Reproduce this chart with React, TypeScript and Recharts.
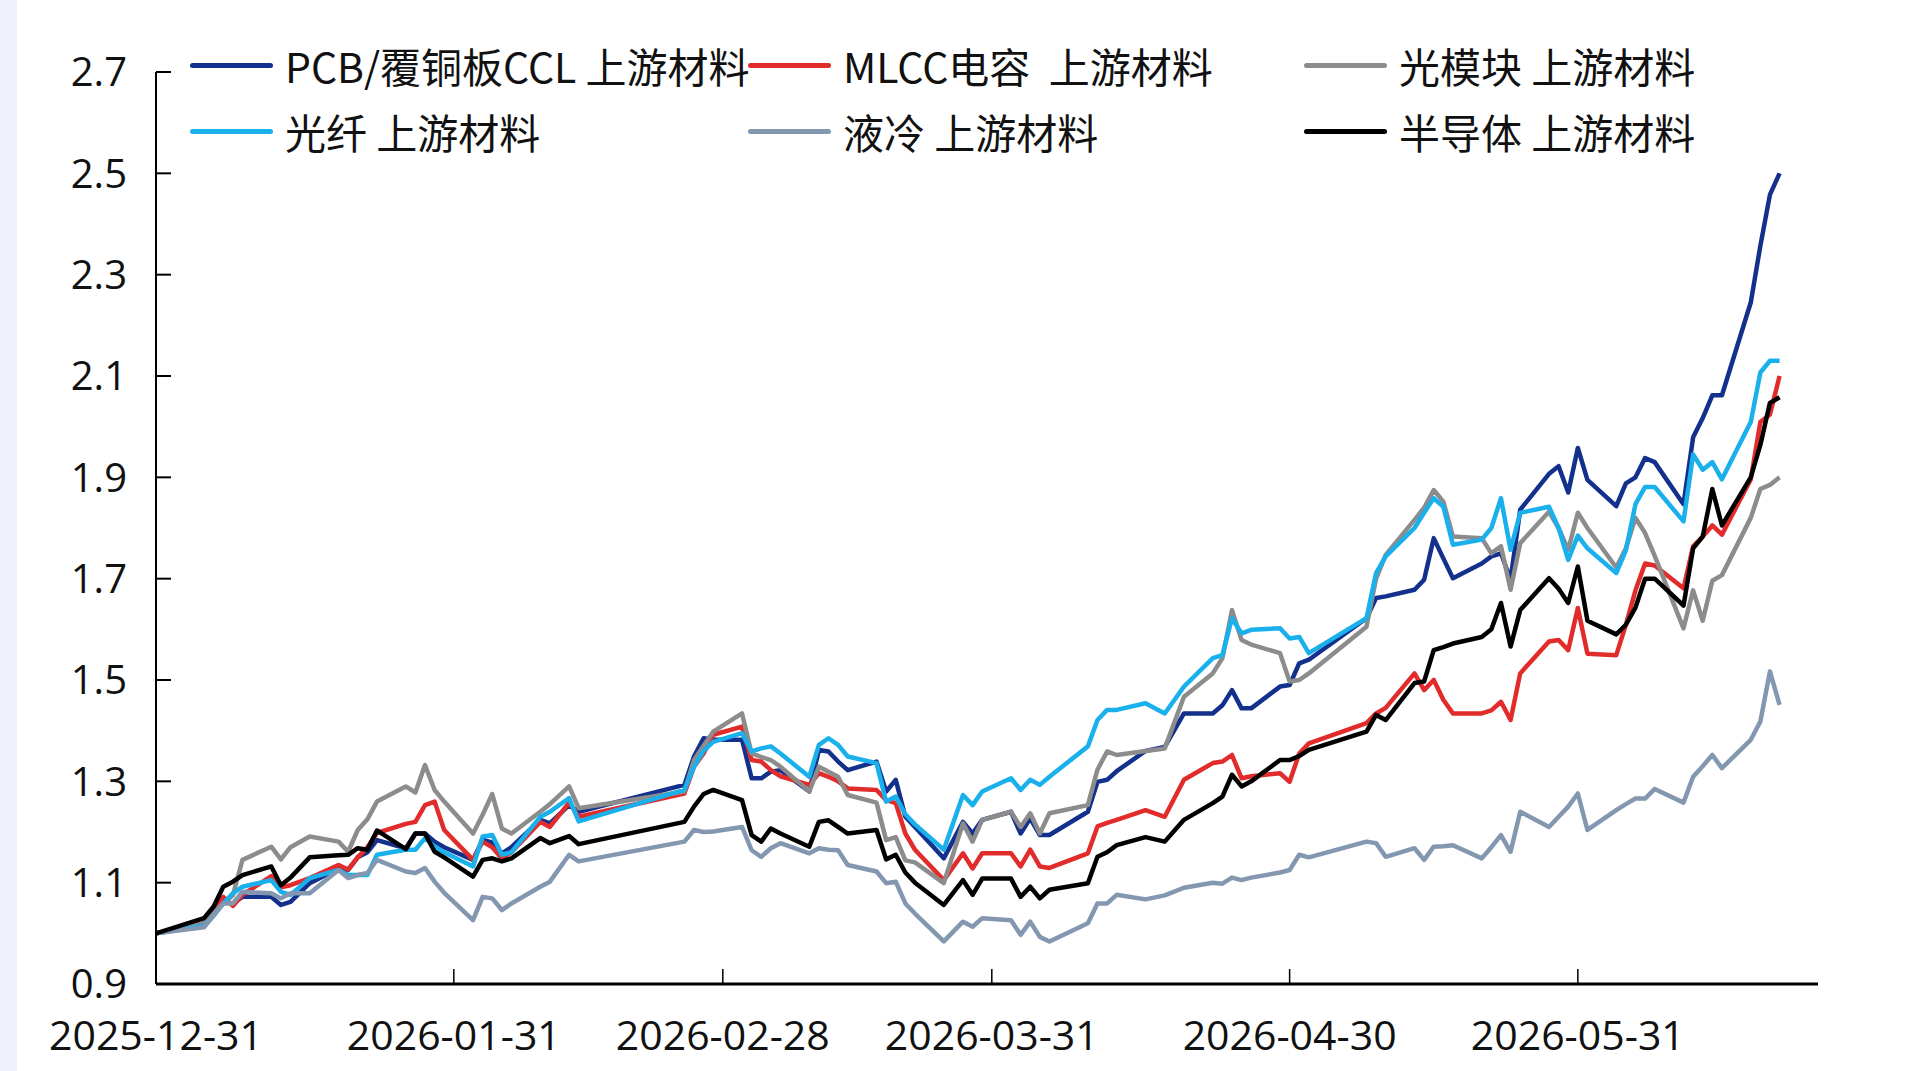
import { LineChart, Line, XAxis, YAxis, Legend } from "recharts";

// days since 2025-12-31 (trading days where the lines turn)
const days = [
  0, 5, 6, 7, 8, 9, 12, 13, 14, 16, 19, 20, 21, 22, 23, 26, 27, 28, 29, 30,
  33, 34, 35, 36, 37, 40, 41, 43, 44, 55, 56, 57, 58, 61, 62, 63, 64, 65, 68, 69,
  70, 71, 72, 75, 76, 77, 78, 79, 82, 84, 85, 86, 89, 90, 91, 92, 93, 97, 98, 99,
  100, 103, 105, 107, 110, 111, 112, 113, 114, 117, 118, 119, 120, 126, 127, 128, 131, 132, 133, 134,
  135, 138, 139, 140, 141, 142, 145, 146, 147, 148, 149, 152, 153, 154, 155, 156, 159, 160, 161, 162,
  163, 166, 167, 168, 169,
];

const pcbCcl = [
  1.0, 1.015, 1.04, 1.062, 1.059, 1.072, 1.072, 1.056, 1.062, 1.099, 1.128, 1.125, 1.15, 1.16, 1.184, 1.168, 1.197, 1.197, 1.181, 1.17,
  1.145, 1.185, 1.179, 1.158, 1.17, 1.224, 1.217, 1.253, 1.24, 1.293, 1.349, 1.385, 1.382, 1.382, 1.306, 1.306, 1.319, 1.322, 1.28, 1.362,
  1.359, 1.339, 1.322, 1.339, 1.28, 1.303, 1.23, 1.21, 1.148, 1.22, 1.197, 1.224, 1.24, 1.197, 1.227, 1.194, 1.194, 1.24, 1.299, 1.303,
  1.32, 1.36, 1.368, 1.434, 1.434, 1.45, 1.48, 1.444, 1.444, 1.487, 1.49, 1.533, 1.54, 1.622, 1.662, 1.665, 1.678, 1.698, 1.78, 1.74,
  1.701, 1.73, 1.744, 1.75, 1.698, 1.836, 1.907, 1.922, 1.87, 1.958, 1.895, 1.843, 1.888, 1.9, 1.938, 1.93, 1.847, 1.979, 2.017, 2.062,
  2.062, 2.245, 2.357, 2.458, 2.5,
];

const mlcc = [
  1.0, 1.02, 1.045, 1.072, 1.054, 1.076, 1.113, 1.091, 1.095, 1.109, 1.135, 1.126, 1.15, 1.17, 1.198, 1.216, 1.22, 1.253, 1.26, 1.204,
  1.145, 1.181, 1.17, 1.148, 1.16, 1.22, 1.21, 1.258, 1.23, 1.276, 1.329, 1.355, 1.392, 1.408, 1.342, 1.339, 1.322, 1.31, 1.293, 1.316,
  1.309, 1.3, 1.286, 1.283, 1.263, 1.257, 1.197, 1.165, 1.105, 1.158, 1.128, 1.158, 1.158, 1.132, 1.165, 1.132, 1.129, 1.158, 1.211, 1.218,
  1.224, 1.243, 1.23, 1.303, 1.336, 1.339, 1.352, 1.306, 1.31, 1.316, 1.299, 1.355, 1.375, 1.415, 1.434, 1.445, 1.513, 1.48, 1.5, 1.461,
  1.434, 1.434, 1.44, 1.457, 1.421, 1.513, 1.576, 1.579, 1.559, 1.642, 1.552, 1.549, 1.609, 1.677, 1.73, 1.726, 1.681, 1.764, 1.783, 1.805,
  1.787, 1.896, 2.009, 2.024, 2.1,
];

const opticalModule = [
  1.0, 1.02, 1.04, 1.059, 1.075, 1.145, 1.171, 1.146, 1.17, 1.191, 1.181, 1.161, 1.204, 1.225, 1.26, 1.29, 1.278, 1.332, 1.283, 1.26,
  1.197, 1.234, 1.275, 1.207, 1.197, 1.24, 1.255, 1.29, 1.247, 1.28, 1.342, 1.37, 1.398, 1.434, 1.355, 1.348, 1.342, 1.329, 1.28, 1.329,
  1.319, 1.309, 1.273, 1.258, 1.184, 1.19, 1.144, 1.14, 1.099, 1.217, 1.181, 1.224, 1.24, 1.21, 1.237, 1.197, 1.237, 1.253, 1.323, 1.359,
  1.352, 1.36, 1.365, 1.467, 1.513, 1.543, 1.638, 1.579, 1.57, 1.553, 1.497, 1.5, 1.513, 1.605, 1.7, 1.747, 1.816, 1.84, 1.875, 1.852,
  1.783, 1.78, 1.75, 1.764, 1.678, 1.77, 1.832, 1.8, 1.757, 1.83, 1.8, 1.722, 1.76, 1.82, 1.79, 1.745, 1.602, 1.677, 1.617, 1.696,
  1.707, 1.82, 1.877, 1.885, 1.9,
];

const opticalFiber = [
  1.0, 1.015, 1.035, 1.059, 1.079, 1.092, 1.105, 1.082, 1.076, 1.109, 1.125, 1.115, 1.115, 1.115, 1.155, 1.165, 1.165, 1.188, 1.171, 1.16,
  1.132, 1.191, 1.194, 1.155, 1.16, 1.23, 1.24, 1.267, 1.221, 1.283, 1.329, 1.36, 1.378, 1.395, 1.359, 1.365, 1.369, 1.355, 1.309, 1.372,
  1.385, 1.372, 1.349, 1.336, 1.26, 1.27, 1.235, 1.215, 1.165, 1.273, 1.253, 1.28, 1.306, 1.283, 1.303, 1.293, 1.309, 1.369, 1.421, 1.441,
  1.441, 1.454, 1.434, 1.487, 1.543, 1.549, 1.622, 1.592, 1.599, 1.602, 1.582, 1.585, 1.553, 1.622, 1.711, 1.744, 1.8, 1.83, 1.859, 1.842,
  1.767, 1.777, 1.8, 1.859, 1.757, 1.83, 1.842, 1.8, 1.737, 1.785, 1.76, 1.711, 1.756, 1.847, 1.881, 1.881, 1.813, 1.945, 1.915, 1.93,
  1.896, 2.009, 2.107, 2.13, 2.13,
];

const liquidCooling = [
  1.0, 1.012, 1.035, 1.059, 1.059, 1.082, 1.079, 1.069, 1.079, 1.079, 1.125, 1.109, 1.115, 1.119, 1.145, 1.122, 1.119, 1.129, 1.102, 1.08,
  1.026, 1.072, 1.069, 1.046, 1.059, 1.092, 1.102, 1.155, 1.142, 1.181, 1.204, 1.2, 1.201, 1.21, 1.164, 1.151, 1.168, 1.178, 1.158, 1.168,
  1.165, 1.164, 1.135, 1.122, 1.099, 1.102, 1.059, 1.039, 0.984, 1.023, 1.013, 1.03, 1.026, 0.997, 1.023, 0.993, 0.984, 1.02, 1.059, 1.059,
  1.076, 1.067, 1.075, 1.09, 1.1, 1.098, 1.11, 1.105, 1.11, 1.12, 1.125, 1.155, 1.15, 1.181, 1.178, 1.151, 1.168, 1.145, 1.171, 1.172,
  1.174, 1.148, 1.17, 1.194, 1.161, 1.24, 1.21, 1.23, 1.25, 1.276, 1.204, 1.243, 1.255, 1.266, 1.266, 1.285, 1.258, 1.309, 1.33, 1.352,
  1.326, 1.382, 1.418, 1.517, 1.451,
];

const semiconductor = [
  1.0, 1.03, 1.053, 1.092, 1.102, 1.115, 1.132, 1.095, 1.11, 1.15, 1.154, 1.155, 1.168, 1.165, 1.203, 1.166, 1.197, 1.197, 1.161, 1.15,
  1.112, 1.145, 1.148, 1.142, 1.148, 1.188, 1.178, 1.192, 1.176, 1.22, 1.25, 1.275, 1.283, 1.263, 1.194, 1.181, 1.207, 1.197, 1.171, 1.22,
  1.223, 1.21, 1.197, 1.204, 1.146, 1.155, 1.12, 1.1, 1.056, 1.105, 1.076, 1.108, 1.108, 1.072, 1.092, 1.069, 1.086, 1.099, 1.151, 1.16,
  1.174, 1.19, 1.181, 1.224, 1.257, 1.27, 1.313, 1.29, 1.3, 1.342, 1.342, 1.35, 1.362, 1.398, 1.431, 1.421, 1.494, 1.497, 1.559, 1.565,
  1.572, 1.585, 1.6, 1.652, 1.566, 1.638, 1.701, 1.68, 1.652, 1.724, 1.617, 1.59, 1.609, 1.643, 1.7, 1.7, 1.647, 1.76, 1.783, 1.877,
  1.805, 1.9, 1.964, 2.047, 2.058,
];

const xTicks = [0, 31, 59, 87, 118, 148];
const xTickLabels = ["2025-12-31", "2026-01-31", "2026-02-28", "2026-03-31", "2026-04-30", "2026-05-31"];
const yTicks = [0.9, 1.1, 1.3, 1.5, 1.7, 1.9, 2.1, 2.3, 2.5, 2.7];

const series = [
  { key: "pcb", name: "PCB/覆铜板CCL 上游材料", color: "#13308C", values: pcbCcl },
  { key: "mlcc", name: "MLCC电容  上游材料", color: "#E22B2B", values: mlcc },
  { key: "module", name: "光模块 上游材料", color: "#8C8C8C", values: opticalModule },
  { key: "fiber", name: "光纤 上游材料", color: "#19B0EC", values: opticalFiber },
  { key: "liquid", name: "液冷 上游材料", color: "#8497B0", values: liquidCooling },
  { key: "semi", name: "半导体 上游材料", color: "#000000", values: semiconductor },
];

const data = days.map((day, i) => {
  const row: Record<string, number> = { day };
  series.forEach((s) => {
    row[s.key] = s.values[i];
  });
  return row;
});

// legend slots: 3 columns x 2 rows, in series order
const legendCols = [190, 748, 1304];
const legendRows = [65, 131];

function ChartLegend({ payload }: any) {
  return (
    <div style={{ position: "relative", width: 1907, height: 170 }}>
      {(payload || []).map((entry: any) => {
        const i = series.findIndex((s) => s.name === entry.value);
        return (
          <div
            key={entry.value}
            style={{
              position: "absolute",
              left: legendCols[i % 3],
              top: legendRows[Math.floor(i / 3)] - 30,
              height: 60,
              display: "flex",
              alignItems: "center",
              fontFamily: "'Noto Sans CJK SC', sans-serif",
              fontSize: 41,
              color: "#111",
              whiteSpace: "pre",
            }}
          >
            <span
              style={{
                display: "inline-block",
                width: 83,
                height: 5,
                borderRadius: 3,
                background: entry.color,
                marginRight: 12,
              }}
            />
            {entry.value}
          </div>
        );
      })}
    </div>
  );
}

export default function App() {
  return (
    <div style={{ position: "absolute", left: 0, top: 0, width: 1907, height: 1071, background: "#fff" }}>
      <div style={{ position: "absolute", left: 0, top: 0, width: 17, height: 1071, background: "#EEF1FA" }} />
      <LineChart width={1907} height={1071} data={data} margin={{ top: 72, right: 89, left: 56, bottom: 0 }}>
        <XAxis
          dataKey="day"
          type="number"
          domain={[0, 173]}
          ticks={xTicks}
          interval={0}
          tickFormatter={(v: number) => xTickLabels[xTicks.indexOf(v)]}
          height={87}
          axisLine={{ stroke: "#000", strokeWidth: 3 }}
          tickLine={{ stroke: "#000", strokeWidth: 1.5 }}
          tickSize={-15}
          tickMargin={52}
          tick={{ fontSize: 41, fill: "#111", fontFamily: "'Open Sans', sans-serif" }}
        />
        <YAxis
          type="number"
          domain={[0.9, 2.7]}
          ticks={yTicks}
          interval={0}
          width={100}
          tickFormatter={(v: number) => v.toFixed(1)}
          axisLine={{ stroke: "#000", strokeWidth: 2 }}
          tickLine={{ stroke: "#000", strokeWidth: 2 }}
          tickSize={-15}
          tickMargin={44}
          tick={{ fontSize: 40, fill: "#111", fontFamily: "'Open Sans', sans-serif" }}
        />
        <Legend
          verticalAlign="middle"
          align="center"
          layout="horizontal"
          wrapperStyle={{ left: 0, top: 0, width: 1907, height: 170 }}
          content={<ChartLegend />}
        />
        {series.map((s) => (
          <Line
            key={s.key}
            type="linear"
            dataKey={s.key}
            name={s.name}
            stroke={s.color}
            strokeWidth={4.5}
            strokeLinejoin="round"
            dot={false}
            activeDot={false}
            isAnimationActive={false}
          />
        ))}
      </LineChart>
    </div>
  );
}
